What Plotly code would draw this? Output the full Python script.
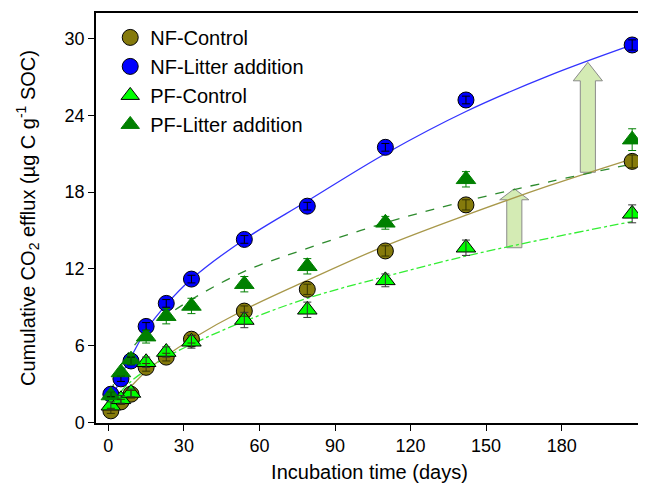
import plotly.graph_objects as go

# sampling days
days = [1, 5, 9, 15, 23, 33, 54, 79, 110, 142, 208]

nf_control = [0.9, 1.6, 2.2, 4.3, 5.1, 6.5, 8.7, 10.4, 13.4, 17.0, 20.4]
nf_control_err = [0.2, 0.2, 0.3, 0.3, 0.3, 0.3, 0.4, 0.4, 0.4, 0.4, 0.5]
nf_litter = [2.2, 3.4, 4.8, 7.5, 9.3, 11.2, 14.3, 16.9, 21.5, 25.2, 29.5]
nf_litter_err = [0.2, 0.2, 0.3, 0.3, 0.3, 0.3, 0.3, 0.3, 0.3, 0.3, 0.4]
pf_control = [1.3, 1.8, 2.3, 4.7, 5.5, 6.3, 8.0, 8.8, 11.1, 13.65, 16.3]
pf_control_err = [0.3, 0.3, 0.3, 0.4, 0.4, 0.5, 0.6, 0.6, 0.5, 0.6, 0.7]
pf_litter = [2.1, 3.9, 4.9, 6.7, 8.3, 9.1, 10.8, 12.2, 15.6, 19.0, 22.1]
pf_litter_err = [0.3, 0.3, 0.4, 0.5, 0.6, 0.6, 0.6, 0.6, 0.5, 0.6, 0.85]

# fitted curves
fit_days = [1, 5, 9, 15, 23, 33, 54, 79, 110, 142, 175, 208]
fit_nf_control = [0.7, 1.9, 2.8, 4.0, 5.2, 6.5, 8.8, 11.1, 13.8, 16.2, 18.5, 20.6]
fit_nf_litter = [1.3, 3.6, 5.1, 7.2, 9.2, 11.2, 14.3, 17.3, 21.0, 24.3, 27.1, 29.5]
fit_pf_control = [1.2, 2.4, 3.2, 4.1, 5.1, 6.1, 7.9, 9.7, 11.4, 13.0, 14.4, 15.7]
fit_pf_litter = [2.3, 4.5, 5.7, 7.0, 8.3, 9.6, 11.8, 13.6, 15.6, 17.3, 18.8, 20.2]

# block arrows: (day, bottom, head base, tip)
arrows = [(190.4, 19.55, 26.7, 28.15), (161.2, 13.65, 17.4, 18.26)]

fig = go.Figure()

for cx, yb, yh, yt in arrows:
    sw, hw = 3.0, 5.8
    fig.add_trace(go.Scatter(
        x=[cx - sw, cx + sw, cx + sw, cx + hw, cx, cx - hw, cx - sw, cx - sw],
        y=[yb, yb, yh, yh, yt, yh, yh, yb],
        mode="lines", fill="toself", fillcolor="#d4ebb4",
        line=dict(color="#8a8a8a", width=1), showlegend=False, hoverinfo="skip"))

curves = [
    (fit_nf_litter, "#3333ff", "solid"),
    (fit_nf_control, "#a8984a", "solid"),
    (fit_pf_litter, "#2e8b2e", "dash"),
    (fit_pf_control, "#33ee33", "dashdot"),
]
for vals, col, dash in curves:
    fig.add_trace(go.Scatter(x=fit_days, y=vals, mode="lines", line_shape="spline",
                             line=dict(color=col, width=1.3, dash=dash),
                             showlegend=False, hoverinfo="skip"))

series = [
    ("NF-Control", nf_control, nf_control_err, "circle", 16, "#857a0c", "#000000", "#333300"),
    ("NF-Litter addition", nf_litter, nf_litter_err, "circle", 16, "#0000ff", "#000000", "#000000"),
    ("PF-Control", pf_control, pf_control_err, "triangle-up", 17, "#00ff00", "#000000", "#333333"),
    ("PF-Litter addition", pf_litter, pf_litter_err, "triangle-up", 17, "#008000", "#008000", "#008000"),
]
for name, vals, err, sym, size, col, edge, ecol in series:
    fig.add_trace(go.Scatter(x=days, y=vals, mode="markers", name=name,
                             marker=dict(symbol=sym, size=size, color=col,
                                         line=dict(color=edge, width=1))))
for name, vals, err, sym, size, col, edge, ecol in series:
    fig.add_trace(go.Scatter(x=days, y=vals, mode="markers", showlegend=False,
                             marker=dict(size=1, color="rgba(0,0,0,0)"),
                             error_y=dict(type="data", array=err, color=ecol,
                                          thickness=1, width=4),
                             hoverinfo="skip"))

# the page adds an 8px body margin, so the figure is 8px smaller than the window
fig.update_layout(
    width=638, height=484,
    margin=dict(l=88, r=3, t=5, b=69),
    paper_bgcolor="white", plot_bgcolor="white",
    font=dict(family="Liberation Sans, Arial, sans-serif", size=18, color="black"),
    showlegend=True,
    legend=dict(x=0.026, y=0.988, xanchor="left", yanchor="top",
                bgcolor="rgba(0,0,0,0)", font=dict(size=20), tracegroupgap=0),
)
fig.update_xaxes(range=[-4.9, 212.3], tickvals=[0, 30, 60, 90, 120, 150, 180],
                 showgrid=False, zeroline=False, showline=True, linecolor="black",
                 linewidth=1.5, mirror=True, ticks="outside", ticklen=6,
                 tickcolor="black", automargin=False,
                 title=dict(text="Incubation time (days)",
                            font=dict(size=20), standoff=10))
fig.update_yaxes(range=[-0.05, 32.0], tickvals=[0, 6, 12, 18, 24, 30],
                 showgrid=False, zeroline=False, showline=True, linecolor="black",
                 linewidth=1.5, mirror=True, ticks="outside", ticklen=6,
                 tickcolor="black", automargin=False,
                 title=dict(text="Cumulative CO<sub>2</sub> efflux (µg C g<sup>-1</sup> SOC)",
                            font=dict(size=20), standoff=24))

fig.write_html("out.html")
